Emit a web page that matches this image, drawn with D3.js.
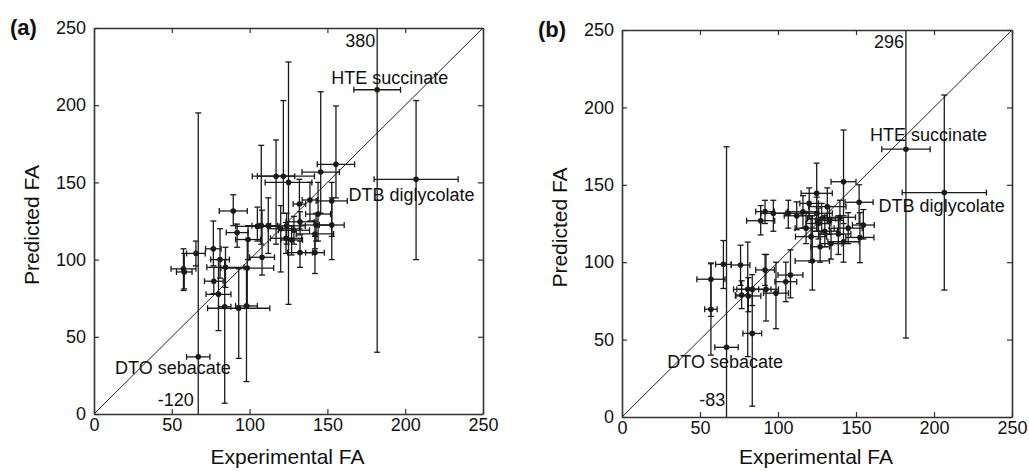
<!DOCTYPE html>
<html>
<head>
<meta charset="utf-8">
<script src="https://cdn.jsdelivr.net/npm/d3@7"></script>
<style>
  body { margin: 0; background: #fff; }
  text { font-family: "Liberation Sans", Arial, sans-serif; fill: #111; }
</style>
</head>
<body>
<svg id="chart" width="1029" height="471"></svg>
<script>
// panel (a)
var aExp    = [182, 207, 67, 57.5, 58, 65.5, 76.7, 77, 80, 84, 93, 98, 98.5, 84.5, 81, 89.5, 92, 99, 105, 108, 117, 121.7, 125, 132, 138.8, 144, 145.7, 155.5, 152.8, 123.8, 132.4, 142.7, 152.8, 123.4, 127, 142, 132.4, 142, 128.5, 120, 107.5, 112]
var aExpErr = [15, 27, 7.5, 8, 5, 6, 5, 6, 8, 4, 20, 7, 17, 12, 6, 9, 7, 8, 14, 8, 12, 20, 15, 4, 5, 8, 12, 12, 10, 12, 9, 10, 8, 10, 7, 12, 8, 6, 10, 8, 6, 6]
var aPred   = [210, 152, 37, 94, 92, 104, 107, 86, 77.5, 69.5, 68.5, 70, 94.5, 95, 100, 131.5, 117.5, 113, 121.5, 101.5, 154, 154, 150, 136, 138.6, 129.5, 156.7, 161.7, 138, 121.8, 124.5, 122.4, 122.4, 113.8, 112.7, 116.6, 104.5, 104.5, 119, 120, 122, 122]
var aPredLo = [40, 100, -120, 80, 81, 96, 96, 78, 54, 7, 36, 21, 70, 82, 88, 122, 108, 100, 112, 90, 110, 130, 71, 120, 125, 112, 130, 140, 115, 110, 116, 112, 100, 104, 103, 107, 95, 91, 110, 92, 110, 104]
var aPredHi = [380, 203, 195, 107, 104, 112, 125, 95, 100, 100, 94, 95, 113, 108, 120, 142, 123, 122, 134, 132, 177.5, 203, 228, 152, 150, 150, 208.7, 199.5, 150, 130, 131, 130, 140, 124, 122, 125, 112, 115, 128, 135, 174, 140]

// panel (b)
var bExp    = [182, 206.6, 67, 57, 57, 65, 76, 76.7, 80.6, 81, 83.5, 83.5, 92.3, 91.7, 98.7, 105, 108, 122, 121.2, 138.7, 142, 152.5, 142, 124.8, 152, 131.6, 97, 106.6, 116, 124.8, 133, 139.7, 154.7, 88.9, 91.7, 112, 118, 128, 130, 127, 145, 134, 126, 120]
var bExpErr = [15.5, 27, 7.5, 9, 4, 5, 6, 4, 7, 8, 12, 6, 8, 6, 8, 7, 8, 11, 10, 8, 10, 9, 8, 10, 9, 12, 8, 9, 10, 10, 9, 10, 7, 9, 6, 8, 7, 9, 8, 6, 9, 7, 8, 6]
var bPred   = [173, 145, 45, 89, 69.6, 98.6, 98.2, 78.8, 82.5, 78.2, 82.5, 54, 82.5, 95, 80, 87.4, 91.7, 100.8, 116.5, 118.2, 113.2, 116, 152, 144.5, 138.7, 135.9, 131.6, 131.6, 132.6, 131.6, 127, 129, 124, 126.8, 132.7, 130, 122, 128, 120, 110, 122, 112, 125, 138]
var bPredLo = [51, 82, -83, 65, 40, 83, 85, 70, 39, 68, 72, 7, 62, 85, 57, 74.5, 77, 82, 100, 105, 100, 99.7, 130, 125, 125, 125, 120, 122, 122, 120, 118, 118, 115, 117.6, 125, 121, 112, 118, 110, 100, 112, 102, 115, 128]
var bPredHi = [296, 208, 174.6, 99.5, 99, 114, 111, 88, 113, 90, 92, 82, 105, 105, 100, 100, 108, 130, 130, 130, 125, 132, 185.4, 164, 150, 148, 140, 140, 143, 142, 136, 140, 134, 136.6, 140, 139, 132, 138, 130, 120, 132, 122, 135, 148]

var TICKS = [0, 50, 100, 150, 200, 250]

const svg = d3.select("#chart")

function panel(opts) {
  var x = d3.scaleLinear().domain([0, 250]).range([opts.left, opts.right])
  var y = d3.scaleLinear().domain([0, 250]).range([opts.bottom, opts.top])

  var rows = opts.xs.map(function(d, i) {
    return {x: d, xe: opts.xe[i], y: opts.ys[i], lo: opts.lo[i], hi: opts.hi[i]}
  })

  svg.append("clipPath").attr("id", opts.id + "clip")
    .append("rect")
    .attr("x", opts.left).attr("y", opts.top)
    .attr("width", opts.right - opts.left).attr("height", opts.bottom - opts.top)

  var g = svg.append("g").attr("clip-path", "url(#" + opts.id + "clip)")

  // diagonal
  g.append("line")
    .attr("x1", x(0)).attr("y1", y(0))
    .attr("x2", x(250)).attr("y2", y(250))
    .attr("stroke", "#222").attr("stroke-width", 1)

  var cap = 3
  var bars = g.selectAll(".bar").data(rows).enter().append("g")
    .attr("stroke", "#1a1a1a").attr("stroke-width", 1.3)

  // vertical error bars
  bars.append("line")
    .attr("x1", d => x(d.x)).attr("x2", d => x(d.x))
    .attr("y1", d => y(d.lo)).attr("y2", d => y(d.hi))
  bars.append("line")
    .attr("x1", d => x(d.x) - cap).attr("x2", d => x(d.x) + cap)
    .attr("y1", d => y(d.lo)).attr("y2", d => y(d.lo))
  bars.append("line")
    .attr("x1", d => x(d.x) - cap).attr("x2", d => x(d.x) + cap)
    .attr("y1", d => y(d.hi)).attr("y2", d => y(d.hi))

  // horizontal error bars
  bars.append("line")
    .attr("x1", d => x(d.x - d.xe)).attr("x2", d => x(d.x + d.xe))
    .attr("y1", d => y(d.y)).attr("y2", d => y(d.y))
  bars.append("line")
    .attr("x1", d => x(d.x - d.xe)).attr("x2", d => x(d.x - d.xe))
    .attr("y1", d => y(d.y) - cap).attr("y2", d => y(d.y) + cap)
  bars.append("line")
    .attr("x1", d => x(d.x + d.xe)).attr("x2", d => x(d.x + d.xe))
    .attr("y1", d => y(d.y) - cap).attr("y2", d => y(d.y) + cap)

  g.selectAll(".dot").data(rows).enter().append("circle")
    .attr("cx", d => x(d.x)).attr("cy", d => y(d.y))
    .attr("r", 2.8).attr("fill", "#1a1a1a")

  // axes, ticks inside on all four sides
  function styleAxis(a) {
    a.select(".domain").attr("stroke", "#333").attr("stroke-width", 1.6)
    a.selectAll(".tick line").attr("stroke", "#333").attr("stroke-width", 1.2)
    a.selectAll("text").attr("font-size", 18).attr("font-family", "Liberation Sans, Arial, sans-serif").attr("fill", "#111")
  }
  svg.append("g").attr("transform", "translate(0," + opts.bottom + ")")
    .call(d3.axisBottom(x).tickValues(TICKS).tickSizeInner(-5).tickSizeOuter(0).tickPadding(4))
    .call(styleAxis)
  svg.append("g").attr("transform", "translate(0," + opts.top + ")")
    .call(d3.axisTop(x).tickValues(TICKS).tickSizeInner(-5).tickSizeOuter(0).tickFormat(""))
    .call(styleAxis)
  svg.append("g").attr("transform", "translate(" + opts.left + ",0)")
    .call(d3.axisLeft(y).tickValues(TICKS).tickSizeInner(-5).tickSizeOuter(0).tickPadding(8))
    .call(styleAxis)
  svg.append("g").attr("transform", "translate(" + opts.right + ",0)")
    .call(d3.axisRight(y).tickValues(TICKS).tickSizeInner(-5).tickSizeOuter(0).tickFormat(""))
    .call(styleAxis)

  // titles
  svg.append("text")
    .attr("x", (opts.left + opts.right) / 2 - 1).attr("y", Math.min(opts.bottom + 50, 464))
    .attr("text-anchor", "middle").attr("font-size", 21)
    .text("Experimental FA")
  svg.append("text")
    .attr("transform", "translate(" + (opts.left - 55) + "," + ((opts.top + opts.bottom) / 2 + 4) + ") rotate(-90)")
    .attr("text-anchor", "middle").attr("font-size", 21)
    .text("Predicted FA")
  svg.append("text")
    .attr("x", opts.left - 84).attr("y", opts.top + 7)
    .attr("font-size", 22).attr("font-weight", "bold")
    .text(opts.label)

  // annotations
  opts.notes.forEach(function(n) {
    svg.append("text")
      .attr("x", x(n[1])).attr("y", y(n[2]))
      .attr("font-size", 18)
      .text(n[0])
  })
}

panel({
  id: "a", label: "(a)", left: 94, right: 483, top: 28, bottom: 414,
  xs: aExp, xe: aExpErr, ys: aPred, lo: aPredLo, hi: aPredHi,
  notes: [["380", 161.5, 238], ["HTE succinate", 152.5, 213.5], ["DTB diglycolate", 163.5, 138],
          ["DTO sebacate", 13.5, 26], ["-120", 41, 5.5]]
})

panel({
  id: "b", label: "(b)", left: 622, right: 1012, top: 30, bottom: 417,
  xs: bExp, xe: bExpErr, ys: bPred, lo: bPredLo, hi: bPredHi,
  notes: [["296", 161.5, 238.5], ["HTE succinate", 159, 178], ["DTB diglycolate", 164.5, 132.5],
          ["DTO sebacate", 29, 31.5], ["-83", 49.5, 7]]
})
</script>
</body>
</html>
